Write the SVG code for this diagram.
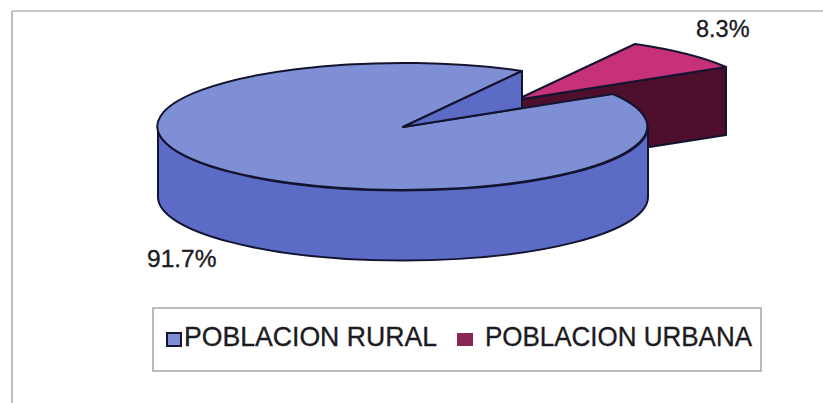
<svg xmlns="http://www.w3.org/2000/svg" width="823" height="403" viewBox="0 0 823 403">
<style>
.lbl{font-family:"Liberation Sans",Arial,sans-serif;fill:#1c1a22;stroke:#1c1a22;stroke-width:0.35}
.edge{stroke:#141430;stroke-width:2;stroke-linejoin:round}
.rtop{fill:#7e8fd6}
.rside{fill:#5b6bc6}
.utop{fill:#c7307a}
.uside{fill:#4e0f2c}
</style>
<rect width="823" height="403" fill="#ffffff"/>
<g id="frame">
<line x1="12" y1="11" x2="823" y2="11" stroke="#b4b4b4" stroke-width="1.5"/>
<line x1="12" y1="11" x2="12" y2="403" stroke="#b8a2ac" stroke-width="1.5"/>
</g>
<g id="slice-urbana">
<path class="uside edge" d="M516,100 L726,67 L726,135 L516,168 Z"/>
<path class="utop edge" d="M516,100 L635,44 A245,63.5 0 0 1 726,67 Z"/>
</g>
<g id="slice-rural">
<path class="rside edge" d="M158,127 A245,63.5 0 0 0 648,127 L648,197 A245,63.5 0 0 1 158,197 Z"/>
<path class="rtop edge" d="M403,127 L613,94 A245,63.5 0 1 1 522,71 Z"/>
<path class="rside edge" d="M403,127 L522,71 L522,108 Z"/>
</g>
<g id="labels">
<text class="lbl" x="696" y="37" font-size="23.5">8.3%</text>
<text class="lbl" x="147" y="267" font-size="24.5">91.7%</text>
</g>
<g id="legend">
<rect x="153" y="308" width="608" height="63" fill="#ffffff" stroke="#a8a2a8" stroke-width="1.5"/>
<rect x="167" y="333" width="14" height="13" fill="#7e8fd6" stroke="#141430" stroke-width="2"/>
<text class="lbl" x="184" y="346" font-size="28" textLength="253" lengthAdjust="spacingAndGlyphs">POBLACION RURAL</text>
<rect x="457" y="333" width="16" height="13" fill="#8a2655"/>
<text class="lbl" x="485" y="346" font-size="28" textLength="267" lengthAdjust="spacingAndGlyphs">POBLACION URBANA</text>
</g>
</svg>
